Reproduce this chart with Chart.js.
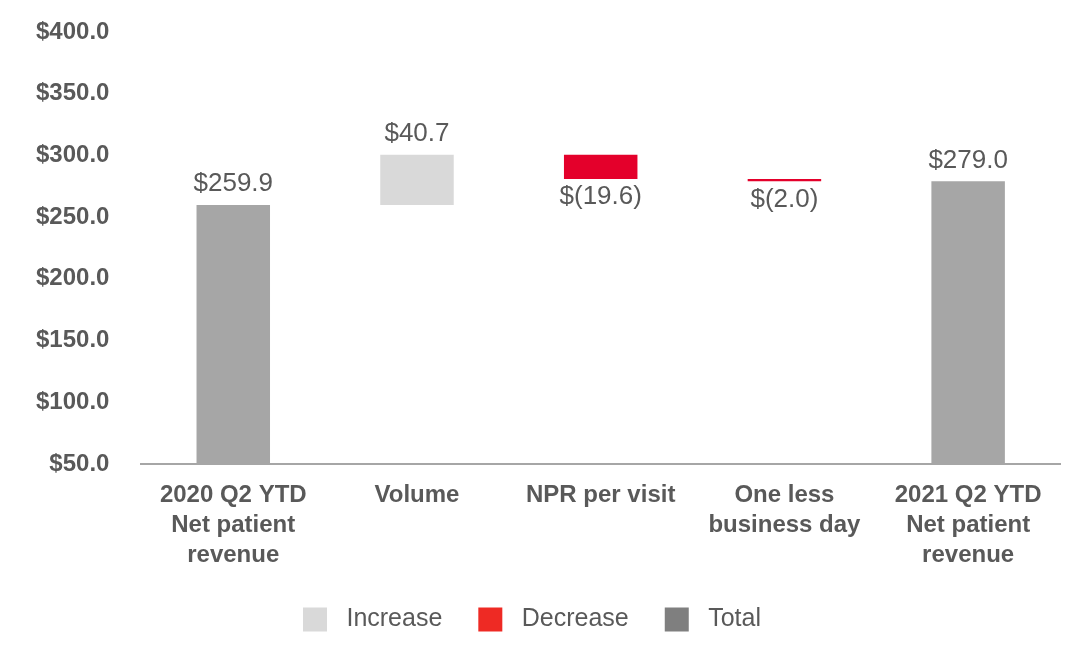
<!DOCTYPE html>
<html>
<head>
<meta charset="utf-8">
<script src="https://cdn.jsdelivr.net/npm/chart.js@4.4.1/dist/chart.umd.min.js"></script>
<style>
  html, body { margin: 0; padding: 0; background: #ffffff; }
  #wrap { width: 1092px; height: 670px; position: relative; }
</style>
</head>
<body>
<div id="wrap"><canvas id="chart"></canvas></div>
<script>
// waterfall data
var categories = [
    ["2020 Q2 YTD", "Net patient", "revenue"],
    "Volume",
    "NPR per visit",
    ["One less", "business day"],
    ["2021 Q2 YTD", "Net patient", "revenue"]
];
var startTotal = 259.9;
var changes = [40.7, -19.6, -2.0];
var endTotal = 279.0;
var yTicks = [50, 100, 150, 200, 250, 300, 350, 400];
var legendNames = ["Increase", "Decrease", "Total"];

var totalColor = "#a6a6a6";
var increaseColor = "#d9d9d9";
var decreaseColor = "#e4002b";
var textColor = "#595959";
var fontFam = "'Liberation Sans', Arial, sans-serif";

// Build floating bars from the running total
var barData = [startTotal];
var barValues = [startTotal];
var barColors = [totalColor];
var running = startTotal;
for (var i = 0; i < changes.length; i++) {
    var next = running + changes[i];
    barData.push([running, next]);
    barValues.push(changes[i]);
    barColors.push(changes[i] >= 0 ? increaseColor : decreaseColor);
    running = next;
}
barData.push(endTotal);
barValues.push(endTotal);
barColors.push(totalColor);

function money(v) {
    var s = Math.abs(v).toFixed(1);
    return v < 0 ? "$(" + s + ")" : "$" + s;
}

// Labels above increases/totals, below decreases
var valueLabels = {
    id: "valueLabels",
    afterDatasetsDraw: function(chart) {
        var ctx = chart.ctx;
        var meta = chart.getDatasetMeta(0);
        ctx.save();
        ctx.font = "26px " + fontFam;
        ctx.fillStyle = textColor;
        ctx.textAlign = "center";
        meta.data.forEach(function(bar, idx) {
            var top = Math.min(bar.y, bar.base);
            var bottom = Math.max(bar.y, bar.base);
            var v = barValues[idx];
            if (v < 0) {
                ctx.textBaseline = "top";
                ctx.fillText(money(v), bar.x, bottom + 5);
            } else {
                ctx.textBaseline = "bottom";
                ctx.fillText(money(v), bar.x, top - 8);
            }
        });
        ctx.restore();
    }
};

var ctx = document.getElementById("chart");
new Chart(ctx, {
    type: "bar",
    data: {
        labels: categories,
        datasets: [{
            data: barData,
            backgroundColor: barColors,
            barPercentage: 0.4,
            categoryPercentage: 1.0
        }]
    },
    options: {
        responsive: true,
        maintainAspectRatio: false,
        animation: false,
        layout: { padding: { top: 0, right: 32, left: 4, bottom: 28 } },
        scales: {
            x: {
                grid: { display: false, drawTicks: false },
                border: { display: true, color: "#a6a6a6", width: 2 },
                ticks: {
                    color: textColor,
                    font: { family: fontFam, size: 24, weight: "bold", lineHeight: 1.25 },
                    padding: 16,
                    maxRotation: 0
                },
                // let the labels run into the empty space above the legend
                afterFit: function(axis) { axis.height -= 15; }
            },
            y: {
                min: 50,
                max: 400,
                afterBuildTicks: function(axis) {
                    axis.ticks = yTicks.map(function(v) { return { value: v }; });
                },
                // room above the $400.0 label
                afterFit: function(axis) { axis.paddingTop = 32; },
                grid: { display: false, drawTicks: false },
                border: { display: false },
                ticks: {
                    color: textColor,
                    font: { family: fontFam, size: 24, weight: "bold" },
                    padding: 32,
                    callback: function(v) { return "$" + Number(v).toFixed(1); }
                }
            }
        },
        plugins: {
            tooltip: { enabled: false },
            legend: {
                position: "bottom",
                labels: {
                    color: textColor,
                    font: { family: fontFam, size: 25 },
                    boxWidth: 24,
                    boxHeight: 24,
                    padding: 36,
                    generateLabels: function() {
                        var cols = ["#d9d9d9", "#ee2a24", "#7f7f7f"];
                        return legendNames.map(function(n, k) {
                            return { text: " " + n, fillStyle: cols[k], strokeStyle: cols[k], lineWidth: 0, fontColor: textColor };
                        });
                    }
                }
            }
        }
    },
    plugins: [valueLabels]
});
</script>
</body>
</html>
